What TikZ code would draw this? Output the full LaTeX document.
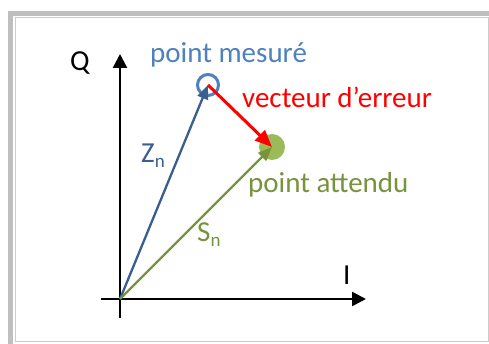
\documentclass[tikz,border=0pt]{standalone}
\usepackage{fontspec}
\setmainfont{Carlito}
\usepackage{xcolor}
\usepackage{tikz}
\usetikzlibrary{arrows.meta, positioning}

\definecolor{framegray}{HTML}{BFBFBF}
\definecolor{linegray}{HTML}{CCCCCC}
\definecolor{mesblue}{HTML}{4F81BD}
\definecolor{zblue}{HTML}{3A5F8F}
\definecolor{attgreen}{HTML}{9BBB59}
\definecolor{sgreen}{HTML}{77933C}
\definecolor{errred}{HTML}{FF0000}

\tikzset{
  lbl/.style={anchor=base west, inner sep=0pt, font=\fontsize{29}{29}\selectfont},
  vec/.style={line width=2.3pt, -{Triangle[length=14pt,width=11pt]}},
  axis/.style={line width=2.4pt, black, -{Triangle[length=14pt,width=14pt]}},
}
\newcommand{\subn}{{\fontsize{19}{19}\selectfont\raisebox{-5pt}{n}}}

\begin{document}
\begin{tikzpicture}[x=1pt,y=-1pt]
  \useasboundingbox (0,0) rectangle (489,344);
  % Frame
  \fill[framegray] (8,11) rectangle (489,344);
  \fill[white] (13,16) rectangle (489,344);
  \draw[linegray, line width=1pt] (15,18) rectangle (488,341);
  % Axes
  \coordinate (O) at (120,299);
  \coordinate (xl) at (101,299);
  \coordinate (xr) at (366,299);
  \coordinate (yb) at (120,318);
  \coordinate (yt) at (120,54);
  \draw[axis] (xl) -- (xr);
  \draw[axis] (yb) -- (yt);
  \node[lbl] (qlab) at (70,71) {Q};
  \node[lbl] (ilab) at (343,284) {I};
  % Points
  \node[circle, draw=mesblue, line width=3pt, minimum size=21pt, inner sep=0pt] (mes) at (208,85) {};
  \node[circle, fill=attgreen, minimum size=26pt, inner sep=0pt] (att) at (272,147) {};
  % Vectors
  \draw[vec, zblue] (O) -- (mes.center);
  \draw[vec, sgreen] (O) -- (att.center);
  \draw[vec, errred, line width=3pt, -{Triangle[length=17pt,width=14pt]}] (mes.center) -- (att.center);
  % Labels
  \node[lbl, text=mesblue] (meslab) at (150,63) {point mesuré};
  \node[lbl, text=errred] (errlab) at (242,108) {vecteur d’erreur};
  \node[lbl, text=sgreen] (attlab) at (248,193) {point attendu};
  \node[lbl, text=zblue] (zlab) at (141,163) {Z\subn};
  \node[lbl, text=sgreen] (slab) at (197,242) {S\subn};
\end{tikzpicture}
\end{document}
